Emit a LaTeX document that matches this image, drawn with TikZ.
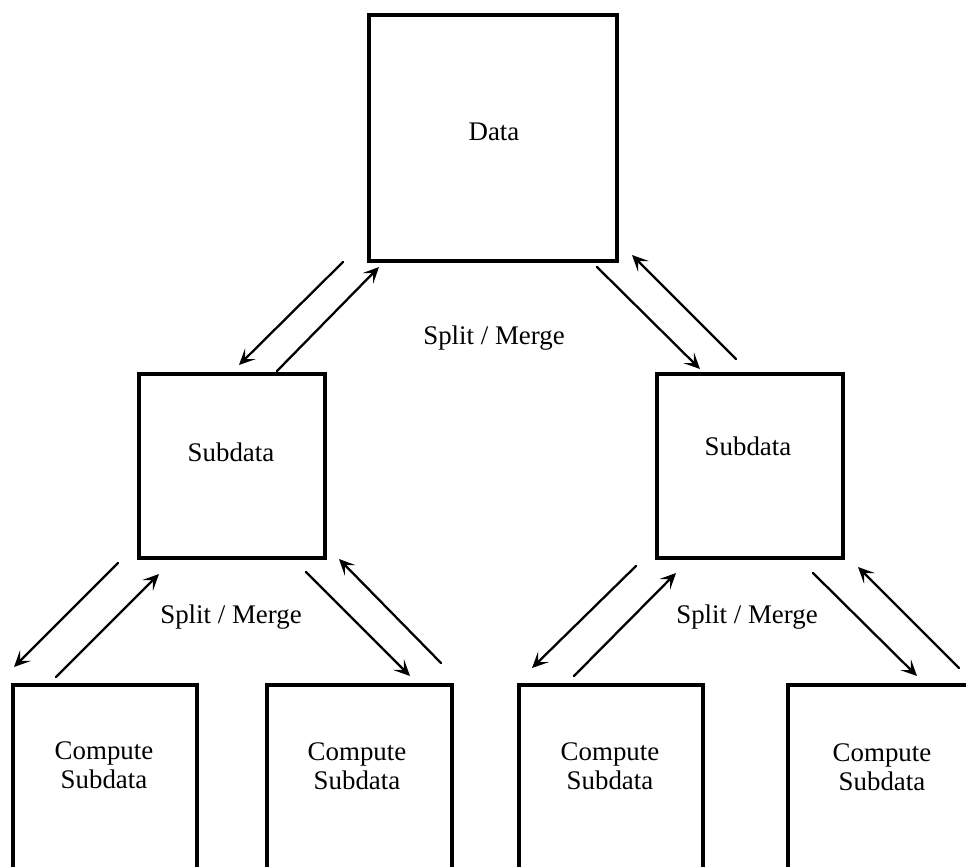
\documentclass[tikz,border=0pt]{standalone}
\usepackage{fontspec}
\setmainfont{Liberation Serif}
\usetikzlibrary{arrows.meta}
\begin{document}
\begin{tikzpicture}[x=0.02cm,y=-0.02cm,
  box/.style={draw=black, line width=2.4pt, inner sep=0pt, outer sep=0pt},
  lbl/.style={font=\fontsize{15.3}{16.4}\selectfont, align=center, inner sep=0pt},
  flow/.style={line width=1.3pt, line cap=round, -{Stealth[length=0.32cm,width=0.3cm,inset=0.15cm]}}]
\useasboundingbox (0,0) rectangle (966,866);
\clip (0,0) rectangle (966,866);

% boxes
\node[box, minimum width=4.96cm, minimum height=4.92cm] (data) at (493,138) {};
\node[box, minimum width=3.72cm, minimum height=3.68cm] (subL) at (232,466) {};
\node[box, minimum width=3.72cm, minimum height=3.68cm] (subR) at (750,466) {};
\node[box, minimum width=3.68cm, minimum height=4.3cm] (c1) at (105,792.5) {};
\node[box, minimum width=3.70cm, minimum height=4.3cm] (c2) at (359.5,792.5) {};
\node[box, minimum width=3.68cm, minimum height=4.3cm] (c3) at (611,792.5) {};
\node[box, minimum width=3.76cm, minimum height=4.3cm] (c4) at (882,792.5) {};

% texts
\node[lbl] (datat) at (494,132) {Data};
\node[lbl] (subLt) at (231,452) {Subdata};
\node[lbl] (subRt) at (748,446) {Subdata};
\node[lbl] (c1t) at (104,765) {Compute\\Subdata};
\node[lbl] (c2t) at (357,766) {Compute\\Subdata};
\node[lbl] (c3t) at (610,766) {Compute\\Subdata};
\node[lbl] (c4t) at (882,767) {Compute\\Subdata};
\node[lbl] (sm0) at (494,338) {Split / Merge};
\node[lbl] (sm1) at (231,617) {Split / Merge};
\node[lbl] (sm2) at (747,617) {Split / Merge};

% arrow end points
\coordinate (a1s) at (343,262); \coordinate (a1e) at (239,365);
\coordinate (a2s) at (277,371); \coordinate (a2e) at (379,267);
\coordinate (a3s) at (597,267); \coordinate (a3e) at (700,369);
\coordinate (a4s) at (736,359); \coordinate (a4e) at (632,255);
\coordinate (a5s) at (118,563); \coordinate (a5e) at (14,667);
\coordinate (a6s) at (56,677);  \coordinate (a6e) at (159,574);
\coordinate (a7s) at (306,572); \coordinate (a7e) at (410,676);
\coordinate (a8s) at (441,663); \coordinate (a8e) at (339,559);
\coordinate (a9s) at (636,566); \coordinate (a9e) at (532,668);
\coordinate (a10s) at (574,676); \coordinate (a10e) at (676,573);
\coordinate (a11s) at (813,573); \coordinate (a11e) at (917,676);
\coordinate (a12s) at (959,668); \coordinate (a12e) at (858,567);

\draw[flow] (a1s) -- (a1e);
\draw[flow] (a2s) -- (a2e);
\draw[flow] (a3s) -- (a3e);
\draw[flow] (a4s) -- (a4e);
\draw[flow] (a5s) -- (a5e);
\draw[flow] (a6s) -- (a6e);
\draw[flow] (a7s) -- (a7e);
\draw[flow] (a8s) -- (a8e);
\draw[flow] (a9s) -- (a9e);
\draw[flow] (a10s) -- (a10e);
\draw[flow] (a11s) -- (a11e);
\draw[flow] (a12s) -- (a12e);
\end{tikzpicture}
\end{document}
